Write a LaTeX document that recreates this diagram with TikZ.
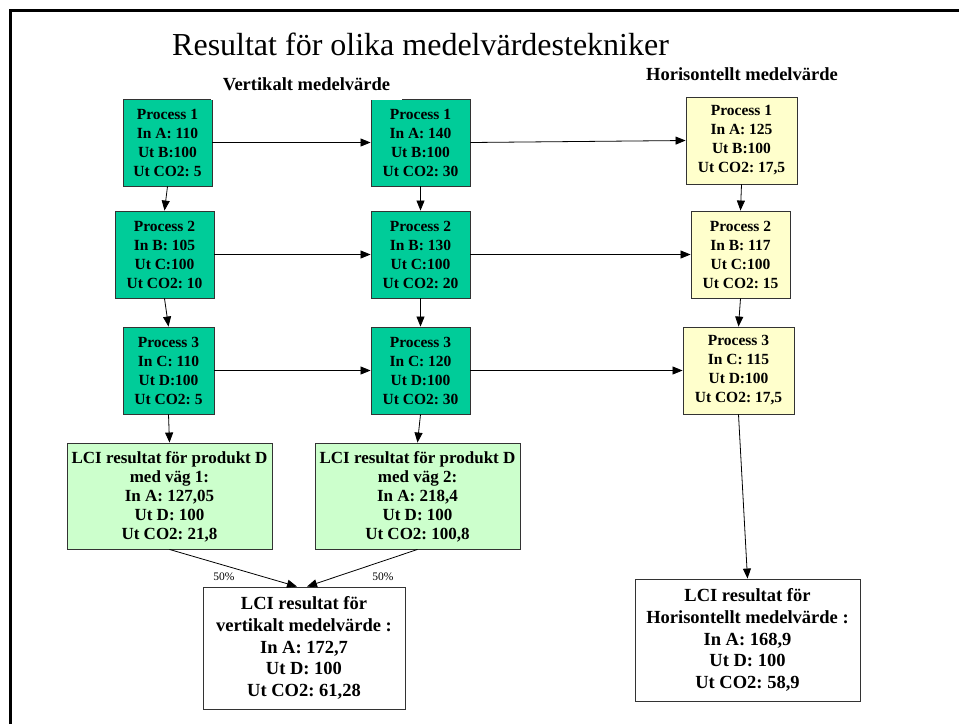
\documentclass[tikz,border=0pt]{standalone}
\usepackage{fontspec}
\setmainfont{Liberation Serif}
\usetikzlibrary{arrows.meta}
\definecolor{procteal}{RGB}{0,204,153}
\definecolor{lcigreen}{RGB}{204,255,204}
\definecolor{horyellow}{RGB}{255,255,204}
\frenchspacing
\begin{document}
\begin{tikzpicture}[x=1pt,y=-1pt,
  box/.style={draw=black!80, line width=0.9pt, align=center, inner sep=0pt},
  proc/.style={box, fill=procteal, minimum height=87pt,
    font=\bfseries\fontsize{15.5}{19}\selectfont},
  hproc/.style={proc, fill=horyellow},
  lci/.style={box, fill=lcigreen, minimum width=205pt, minimum height=106pt,
    font=\bfseries\fontsize{17}{19}\selectfont},
  result/.style={box, fill=white, minimum height=122pt,
    font=\bfseries\fontsize{18.5}{21.7}\selectfont},
  heading/.style={font=\bfseries\fontsize{18.5}{22}\selectfont, inner sep=0pt},
  pct/.style={font=\fontsize{11.5}{13}\selectfont, inner sep=0pt},
  flow/.style={-{Triangle[length=10pt,width=8pt]}, line width=0.8pt}
]
\useasboundingbox (0,0) rectangle (959,724);

% slide frame
\draw[line width=2.3pt] (10.5,724) -- (10.5,10.5) -- (959,10.5);

% title
\node[anchor=base west, inner sep=0pt, font=\fontsize{32}{38}\selectfont]
  (title) at (172,55) {Resultat för olika medelvärdestekniker};

% path 1
\node[proc, minimum width=89pt] (v1) at (167.5,142.5) {Process 1\\In A: 110\\Ut B:100\\Ut CO2: 5};
\node[proc, minimum width=99pt] (v2) at (164.5,254.5) {Process 2\\In B: 105\\Ut C:100\\Ut CO2: 10};
\node[proc, minimum width=91pt] (v3) at (168.5,370.5) {Process 3\\In C: 110\\Ut D:100\\Ut CO2: 5};

% path 2
\node[proc, minimum width=99pt] (w1) at (420.5,142.5) {Process 1\\In A: 140\\Ut B:100\\Ut CO2: 30};
\node[proc, minimum width=99pt] (w2) at (420.5,254.5) {Process 2\\In B: 130\\Ut C:100\\Ut CO2: 20};
\node[proc, minimum width=99pt] (w3) at (420.5,370.5) {Process 3\\In C: 120\\Ut D:100\\Ut CO2: 30};

% horizontal average
\node[hproc, minimum width=111pt] (h1) at (741.5,140.5) {Process 1\\In A: 125\\Ut B:100\\Ut CO2: 17,5};
\node[hproc, minimum width=99pt] (h2) at (740.5,254.5) {Process 2\\In B: 117\\Ut C:100\\Ut CO2: 15};
\node[hproc, minimum width=111pt] (h3) at (738.5,370.5) {Process 3\\In C: 115\\Ut D:100\\Ut CO2: 17,5};

% LCI results per path
\node[lci] (l1) at (169.5,496) {\strut LCI resultat för produkt D\\med väg 1:\\In A: 127,05\\Ut D: 100\\Ut CO2: 21,8};
\node[lci] (l2) at (417.5,496) {\strut LCI resultat för produkt D\\med väg 2:\\In A: 218,4\\Ut D: 100\\Ut CO2: 100,8};

% final results
\node[result, minimum width=202pt] (rv) at (304,648) {LCI resultat för\\vertikalt medelvärde :\\In A: 172,7\\Ut D: 100\\Ut CO2: 61,28};
\node[result, minimum width=225pt] (rh) at (747.5,640) {LCI resultat för\\Horisontellt medelvärde :\\In A: 168,9\\Ut D: 100\\Ut CO2: 58,9};

% vertical flows
\draw[flow] (v1.south) -- (v2.north);
\draw[flow] (v2.south) -- (v3.north);
\draw[flow] (v3.south) -- (l1.north);
\draw[flow] (w1.south) -- (w2.north);
\draw[flow] (w2.south) -- (w3.north);
\draw[flow] (w3.south) -- (l2.north);
\draw[flow] (h1.south) -- (h2.north);
\draw[flow] (h2.south) -- (h3.north);
\draw[flow] (h3.south) -- (rh.north);

% horizontal flows
\draw[flow] (v1.east) -- (w1.west);
\draw[flow] (v2.east) -- (w2.west);
\draw[flow] (v3.east) -- (w3.west);
\draw[flow] (w1.east) -- (h1.west);
\draw[flow] (w2.east) -- (h2.west);
\draw[flow] (w3.east) -- (h3.west);

% weighting into the vertical average
\draw[flow] (l1.south) -- ([xshift=-7pt]rv.north);
\draw[flow] (l2.south) -- ([xshift=3pt]rv.north);
\node[pct] (p1) at (224,577) {50\%};
\node[pct] (p2) at (383,577) {50\%};

% column headings
\node[heading, fill=white, minimum width=191pt, minimum height=32pt] (hv) at (306.5,84) {Vertikalt medelvärde};
\node[heading] (hh) at (742,74.5) {Horisontellt medelvärde};
\end{tikzpicture}
\end{document}
